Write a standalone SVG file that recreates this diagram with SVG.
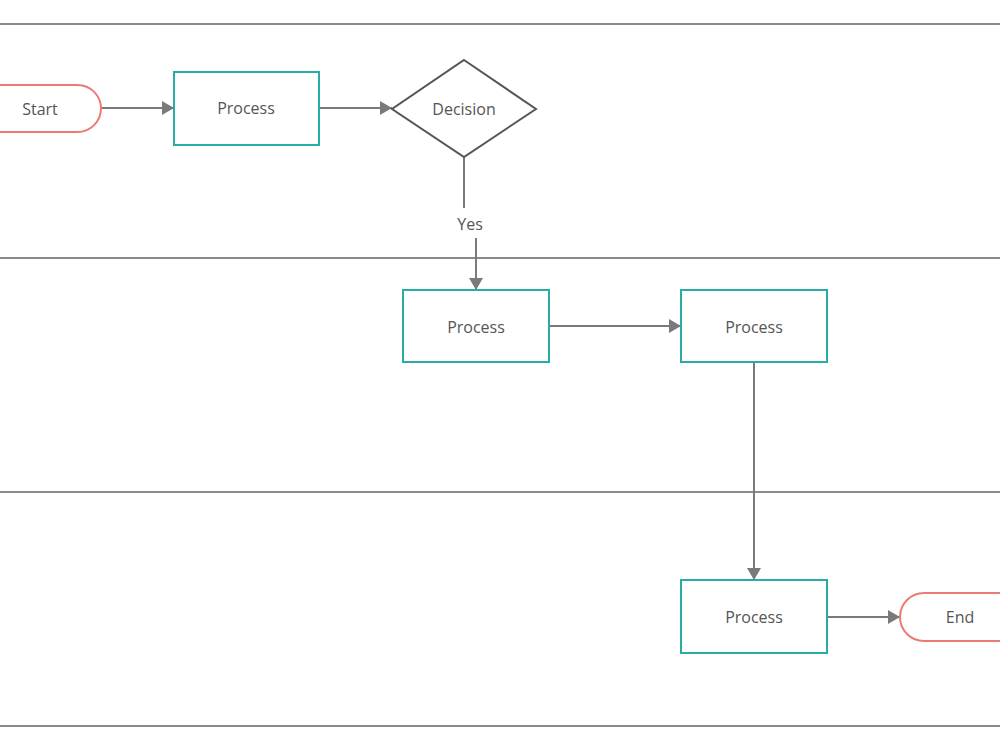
<svg xmlns="http://www.w3.org/2000/svg" width="1000" height="750" viewBox="0 0 1000 750">
<defs>
<style>
.lane{stroke:#8a8a8a;stroke-width:2;fill:none}
.proc{fill:#fff;stroke:#2aaca6;stroke-width:2}
.term{fill:#fff;stroke:#ec7a74;stroke-width:2}
.dec{fill:#fff;stroke:#555;stroke-width:2}
.conn{stroke:#7a7a7a;stroke-width:2;fill:none}
text{font-family:"Open Sans","Liberation Sans",sans-serif;font-size:16px;fill:#555;text-anchor:middle;dominant-baseline:central}
</style>
<marker id="arr" viewBox="0 0 12 14" refX="12" refY="7" markerWidth="12" markerHeight="14" markerUnits="userSpaceOnUse" orient="auto">
<path d="M0,0 L12,7 L0,14 Z" fill="#7a7a7a"/>
</marker>
</defs>
<rect width="1000" height="750" fill="#fff"/>
<g id="lanes">
<line class="lane" x1="0" y1="24" x2="1000" y2="24"/>
<line class="lane" x1="0" y1="258" x2="1000" y2="258"/>
<line class="lane" x1="0" y1="492" x2="1000" y2="492"/>
<line class="lane" x1="0" y1="726" x2="1000" y2="726"/>
</g>
<g id="connectors">
<line class="conn" x1="101" y1="108" x2="174" y2="108" marker-end="url(#arr)"/>
<line class="conn" x1="319" y1="108" x2="392" y2="108" marker-end="url(#arr)"/>
<line class="conn" x1="464" y1="157" x2="464" y2="208"/>
<line class="conn" x1="476" y1="238" x2="476" y2="290" marker-end="url(#arr)"/>
<text x="470" y="224">Yes</text>
<line class="conn" x1="549" y1="326" x2="681" y2="326" marker-end="url(#arr)"/>
<line class="conn" x1="754" y1="362" x2="754" y2="580" marker-end="url(#arr)"/>
<line class="conn" x1="827" y1="617" x2="900" y2="617" marker-end="url(#arr)"/>
</g>
<g id="start">
<rect class="term" x="-40" y="85" width="141" height="47" rx="23.5"/>
<text x="40" y="109">Start</text>
</g>
<g id="process1">
<rect class="proc" x="174" y="72" width="145" height="73"/>
<text x="246" y="108">Process</text>
</g>
<g id="decision">
<polygon class="dec" points="464,60 536,109 464,157 392,109"/>
<text x="464" y="109">Decision</text>
</g>
<g id="process2">
<rect class="proc" x="403" y="290" width="146" height="72"/>
<text x="476" y="327">Process</text>
</g>
<g id="process3">
<rect class="proc" x="681" y="290" width="146" height="72"/>
<text x="754" y="327">Process</text>
</g>
<g id="process4">
<rect class="proc" x="681" y="580" width="146" height="73"/>
<text x="754" y="617">Process</text>
</g>
<g id="end">
<rect class="term" x="900" y="593" width="140" height="48" rx="24"/>
<text x="960" y="617">End</text>
</g>
</svg>
